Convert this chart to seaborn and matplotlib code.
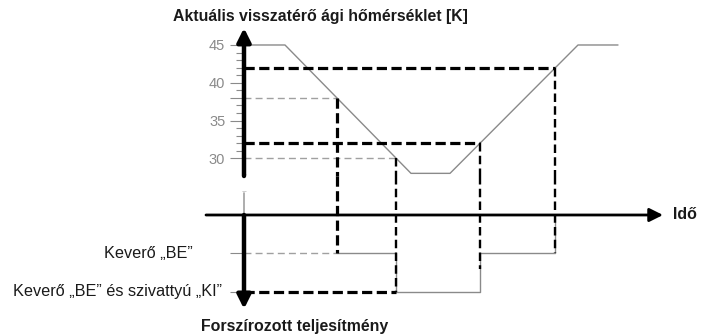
import numpy as np
import matplotlib
matplotlib.use("Agg")
import matplotlib.pyplot as plt
import seaborn as sns

# Return-water temperature course over time (time in arbitrary units, temperature in K)
curve_time = [0.0, 4.1, 16.7, 20.6, 33.4, 37.4]
curve_temp = [45, 45, 28, 28, 45, 45]

# Switching thresholds [K]
mixer_on_temp = 38    # falling: mixer ON
pump_off_temp = 30    # falling: mixer ON and pump OFF
pump_on_temp = 32     # rising: pump back ON
mixer_off_temp = 42   # rising: mixer OFF

temp_major = [30, 35, 38, 40, 45]
temp_major_labels = ["30", "35", "", "40", "45"]
temp_minor = list(range(30, 46))

# Forced-power states: 0 = normal, -1 = mixer ON, -2 = mixer ON + pump OFF
state_levels = [-1, -2]
state_labels = ["Keverő „BE”", "Keverő „BE” és szivattyú „KI”"]

title_top = "Aktuális visszatérő ági hőmérséklet [K]"
title_bottom = "Forszírozott teljesítmény"
time_label = "Idő"

sns.set_theme(style="white")
plt.rcParams["font.family"] = ["Liberation Sans", "DejaVu Sans"]

# Switching instants derived from the temperature course
fall_t = np.array(curve_time[1:3])[::-1]
fall_T = np.array(curve_temp[1:3])[::-1]
rise_t = np.array(curve_time[3:5])
rise_T = np.array(curve_temp[3:5])
t_mix_on = np.interp(mixer_on_temp, fall_T, fall_t)
t_pump_off = np.interp(pump_off_temp, fall_T, fall_t)
t_pump_on = np.interp(pump_on_temp, rise_T, rise_t)
t_mix_off = np.interp(mixer_off_temp, rise_T, rise_t)

step_time = [t_mix_on, t_pump_off, t_pump_on, t_mix_off]
step_state = [-1, -2, -1, 0]

W, H = 707, 336
fig = plt.figure(figsize=(W / 100, H / 100), dpi=100)
xlim = (-24.4, 46.3)
ax_t = fig.add_axes([0, 1 - 176 / H, 1, 156 / H])
ax_s = fig.add_axes([0, 1 - 312 / H, 1, 136 / H])
ax_t.set_xlim(*xlim)
ax_s.set_xlim(*xlim)
ax_t.set_ylim(27.65, 48.31)
ax_s.set_ylim(-2.52, 1.013)
for ax in (ax_t, ax_s):
    ax.patch.set_alpha(0)
    for sp in ax.spines.values():
        sp.set_visible(False)
    ax.spines["left"].set_position(("data", 0))
    ax.set_xticks([])

grey = "#8a8a8a"
light = "#a0a0a0"
ink = "#1a1a1a"

# temperature scale ticks
ax_t.set_yticks(temp_major)
ax_t.set_yticklabels(temp_major_labels)
ax_t.set_yticks(temp_minor, minor=True)
ax_t.tick_params(axis="y", which="major", direction="out", length=10, width=0.8,
                 color=grey, labelsize=10.5, labelcolor=grey, pad=3.5, left=True)
ax_t.tick_params(axis="y", which="minor", direction="out", length=6, width=0.8,
                 color=grey, left=True)

# state ticks
ax_s.set_yticks(state_levels)
ax_s.set_yticklabels([])
ax_s.tick_params(axis="y", which="major", direction="out", length=10, width=0.8,
                 color=grey, left=True)

# temperature course
sns.lineplot(x=curve_time, y=curve_temp, ax=ax_t, color=grey, lw=1,
             estimator=None, sort=False, zorder=2)
# forced power state
sns.lineplot(x=step_time, y=step_state, ax=ax_s, color=grey, lw=1,
             estimator=None, sort=False, drawstyle="steps-post", zorder=2)
for ax in (ax_t, ax_s):
    ax.set_xlabel("")
    ax.set_ylabel("")

thick = dict(color="black", lw=2.3, dashes=(3.2, 1.4), clip_on=False, zorder=4)
medium = dict(color="black", lw=1.7, dashes=(3.6, 1.8), clip_on=False, zorder=4)
thin = dict(color=light, lw=1.0, dashes=(5, 3), clip_on=False, zorder=3)
y_t0 = ax_t.get_ylim()[0]
y_s1 = ax_s.get_ylim()[1]

# horizontal threshold lines
ax_t.plot([0, t_mix_off], [mixer_off_temp] * 2, **thick)
ax_t.plot([0, t_mix_on], [mixer_on_temp] * 2, **thin)
ax_t.plot([0, t_pump_on], [pump_on_temp] * 2, **thick)
ax_t.plot([0, t_pump_off], [pump_off_temp] * 2, **thin)
ax_s.plot([0, t_mix_on], [-1, -1], **thin)
ax_s.plot([0, t_pump_off], [-2, -2], **thick)

# vertical switching lines
ax_t.plot([t_mix_on] * 2, [mixer_on_temp, y_t0], **thick)
ax_s.plot([t_mix_on] * 2, [y_s1, -1], **thick)
ax_t.plot([t_pump_off] * 2, [pump_off_temp, y_t0], **medium)
ax_s.plot([t_pump_off] * 2, [y_s1, -2], **medium)
ax_t.plot([t_pump_on] * 2, [pump_on_temp, y_t0], **medium)
ax_s.plot([t_pump_on] * 2, [y_s1, -1.4], **medium)
ax_t.plot([t_mix_off] * 2, [mixer_off_temp, y_t0], **medium)
ax_s.plot([t_mix_off] * 2, [y_s1, -1], **medium)

# axes with arrows
arrow = dict(arrowstyle="-|>,head_length=0.9,head_width=0.45", color="black",
             shrinkA=0, shrinkB=0, mutation_scale=9)
ax_t.annotate("", xy=(0, 47.25), xytext=(0, y_t0),
              arrowprops=dict(lw=3.2, **arrow), zorder=6, annotation_clip=False)
ax_s.annotate("", xy=(0, -2.44), xytext=(0, 0),
              arrowprops=dict(lw=3.2, **arrow), zorder=6, annotation_clip=False)
ax_s.annotate("", xy=(41.9, 0), xytext=(-3.8, 0),
              arrowprops=dict(lw=2.0, **arrow), zorder=6, annotation_clip=False)
# broken temperature scale
ax_s.plot([0, 0], [0, 0.57], color=light, lw=1.2, zorder=5)
ax_s.text(0, 0.57, "~", ha="center", va="center", fontsize=6, color=light)
ax_t.text(0, y_t0 + 0.05, "~", ha="center", va="center", fontsize=6, color=light)

# labels
fig.text(320 / W, 1 - 16.5 / H, title_top, ha="center", va="center",
         fontsize=11.4, fontweight="bold", color=ink)
fig.text(295 / W, 1 - 326 / H, title_bottom, ha="center", va="center",
         fontsize=11.4, fontweight="bold", color=ink)
ax_s.text(42.9, 0, time_label, ha="left", va="center", fontsize=11.4,
          fontweight="bold", color=ink)
ax_s.text(-5.1, state_levels[0], state_labels[0], ha="right", va="center",
          fontsize=11.7, color=ink)
ax_s.text(-2.2, state_levels[1], state_labels[1], ha="right", va="center",
          fontsize=11.7, color=ink)

fig.savefig("out.png", dpi=100)
